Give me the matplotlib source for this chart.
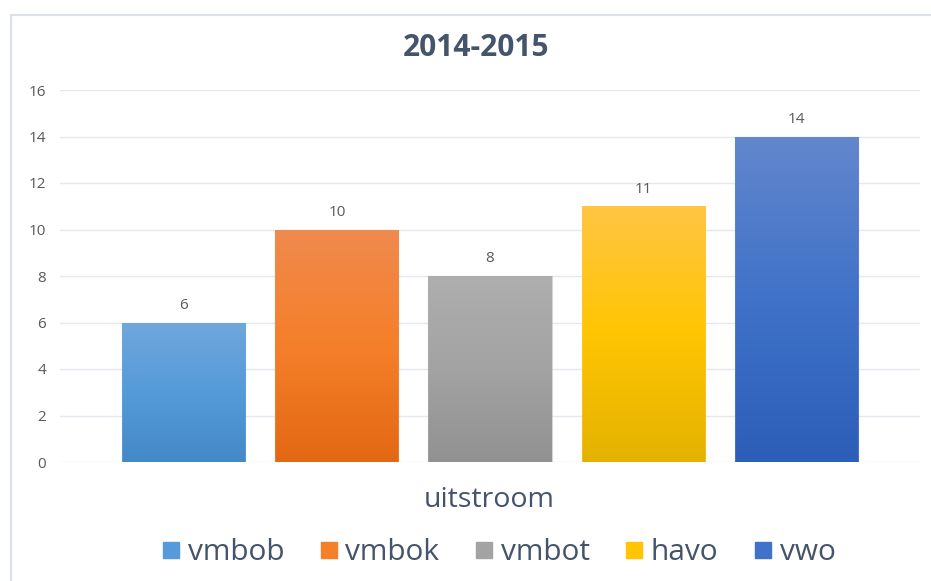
import matplotlib
matplotlib.use("Agg")
import matplotlib.pyplot as plt
import numpy as np
from matplotlib.colors import LinearSegmentedColormap
from matplotlib.patches import Rectangle
from matplotlib.lines import Line2D

plt.rcParams['font.family'] = ['Open Sans', 'DejaVu Sans']

title = "2014-2015"
categories = ["vmbob", "vmbok", "vmbot", "havo", "vwo"]
values = [6, 10, 8, 11, 14]
xlabel = "uitstroom"
yticks = [0, 2, 4, 6, 8, 10, 12, 14, 16]
gradients = [
    ["#70A7DD", "#559AD9", "#4488C8"],
    ["#F08A4E", "#F57F2A", "#E36813"],
    ["#AEAEAE", "#A3A3A3", "#919191"],
    ["#FFC544", "#FFC502", "#E3B200"],
    ["#6387CD", "#3F72C8", "#2C5EB8"],
]

text_col = "#44546A"
tick_col = "#595959"

fig = plt.figure(figsize=(9.31, 5.81), dpi=100)
# chart border
fig.patches.append(Rectangle((11 / 931, -0.01), 1.1, 1 - 15 / 581 + 0.01,
                             transform=fig.transFigure, fill=False,
                             edgecolor="#DCE1E9", linewidth=1.5))

ax = fig.add_axes([60 / 931, (581 - 462) / 581, 860 / 931, 372 / 581])
x = np.arange(len(categories))
width = 0.804
bars = ax.bar(x, values, width=width, color="none", edgecolor="none", zorder=3)

for b, grad in zip(bars, gradients):
    cmap = LinearSegmentedColormap.from_list("g", grad[::-1])
    img = np.linspace(0, 1, 256).reshape(-1, 1)
    bx, by = b.get_x(), b.get_y()
    bw, bh = b.get_width(), b.get_height()
    im = ax.imshow(img, cmap=cmap, aspect="auto", origin="lower",
                   extent=[bx, bx + bw, by, by + bh], zorder=3)
    im.set_clip_path(b)
    ax.add_patch(Rectangle((bx, by), bw, bh, fill=False,
                           edgecolor=grad[0], linewidth=0.8, alpha=0.5, zorder=4))

for xi, v in zip(x, values):
    ax.annotate(str(v), (xi, v), xytext=(0, 7), textcoords="offset points",
                ha="center", va="bottom", fontsize=11, color="#595959")

ax.set_xlim(-0.81, 4.81)
ax.set_ylim(0, 16)
ax.set_yticks(yticks)
ax.set_xticks([])
ax.tick_params(axis="y", length=0, pad=10, labelsize=11, labelcolor=tick_col)
for s in ax.spines.values():
    s.set_visible(False)
ax.yaxis.grid(True, color="#E3E7EE", linewidth=1.0, zorder=0)
ax.set_axisbelow(True)

fig.text(476 / 931, 1 - 48 / 581, title, ha="center", va="center",
         fontsize=21.5, fontweight="bold", color=text_col)
fig.text(489 / 931, 1 - 500 / 581, xlabel, ha="center", va="center",
         fontsize=20.5, color=text_col)

handles = [Line2D([], [], marker="s", linestyle="none", markersize=12,
                  markerfacecolor=g[1], markeredgecolor=g[1]) for g in gradients]
fig.legend(handles, categories, loc="center", bbox_to_anchor=(496 / 931, 1 - 553 / 581),
           ncol=5, frameon=False, fontsize=21.5, labelcolor=text_col,
           handletextpad=0.05, columnspacing=1.0, handlelength=1.0)

fig.savefig("out.png", dpi=100, facecolor="white")
